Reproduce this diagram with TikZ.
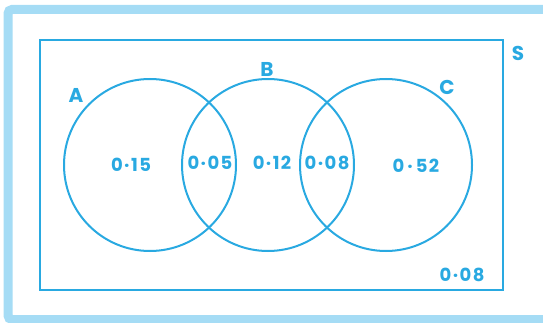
\documentclass[tikz,border=0pt]{standalone}
\usepackage{fontspec}
\setmainfont{Poppins}
\newfontfamily\handfont[LetterSpace=8]{Poppins}
\usetikzlibrary{positioning}
\definecolor{vennblue}{HTML}{29A9E1}
\definecolor{framelight}{HTML}{A5DCF5}

\begin{document}
\begin{tikzpicture}[
  x=1pt, y=-1pt,
  setcircle/.style={draw=vennblue, circle, line width=2pt, minimum size=172pt,
    inner sep=0pt, outer sep=0pt},
  setlabel/.style={text=vennblue, font=\bfseries\fontsize{20}{20}\selectfont, inner sep=0pt},
  prob/.style={text=vennblue, font=\handfont\bfseries\fontsize{18}{18}\selectfont, inner sep=0pt},
]
  \useasboundingbox (0,0) rectangle (543,323);
  % outer frame
  \draw[framelight, line width=9pt, rounded corners=4pt] (8,9.5) rectangle (548,319.5);

  \node (S) [draw=vennblue, line width=2pt, minimum width=463pt, minimum height=250pt,
    inner sep=0pt, outer sep=0pt] at (271.5,165) {};
  \node (A) [setcircle] at (150,165) {};
  \node (B) [setcircle, right=-54pt of A] {};
  \node (C) [setcircle, right=-54pt of B] {};

  \node (labA) [setlabel] at (76,95) {A};
  \node (labB) [setlabel] at (267,69) {B};
  \node (labC) [setlabel] at (447,87) {C};
  \node (labS) [setlabel] at (518,53) {S};

  \node (pA)   [prob] at (131,165) {0·15};
  \node (pAB)  [prob] at (210,163) {0·05};
  \node (pB)   [prob] at (272,163) {0·12};
  \node (pBC)  [prob] at (327,163) {0·08};
  \node (pC)   [prob] at (416,166) {0\,·\,52};
  \node (pOut) [prob] at (462,275) {0·08};
\end{tikzpicture}
\end{document}
